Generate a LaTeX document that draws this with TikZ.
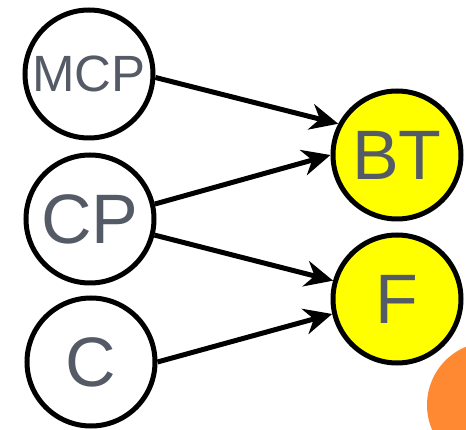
\documentclass[tikz,border=0pt]{standalone}
\usepackage{fontspec}
\setmainfont{Liberation Sans}
\usetikzlibrary{arrows.meta}
\definecolor{labelgray}{HTML}{545B66}
\definecolor{goalyellow}{HTML}{FFFF00}
\definecolor{dotorange}{HTML}{FF8833}

\begin{document}
\begin{tikzpicture}[x=1pt,y=-1pt,
		state/.style={circle, draw=black, line width=5pt, minimum size=128pt, inner sep=0pt,
			text=labelgray, font=\fontsize{70}{70}\selectfont},
		goal/.style={state, fill=goalyellow},
		link/.style={line width=5pt, -{Stealth[length=28pt,width=26pt,inset=9pt]}}
			]
	\useasboundingbox (0,0) rectangle (466,430);
	\clip (0,0) rectangle (466,430);

	\fill[dotorange] (490,405) circle (63);

	\node[state, font=\fontsize{51}{51}\selectfont] (mcp) at (89,74) {MCP};
	\node[state] (cp) at (90,219) {CP};
	\node[state] (c) at (91,362) {C};
	\node[goal] (bt) at (397,155) {BT};
	\node[goal] (f) at (397,299) {F};

	\draw[link] (mcp.-3) -- (bt.152);
	\draw[link] (cp.13) -- (bt.180);
	\draw[link] (cp.-14) -- (f.164);
	\draw[link] (c.0) -- (f.-167);
\end{tikzpicture}
\end{document}
